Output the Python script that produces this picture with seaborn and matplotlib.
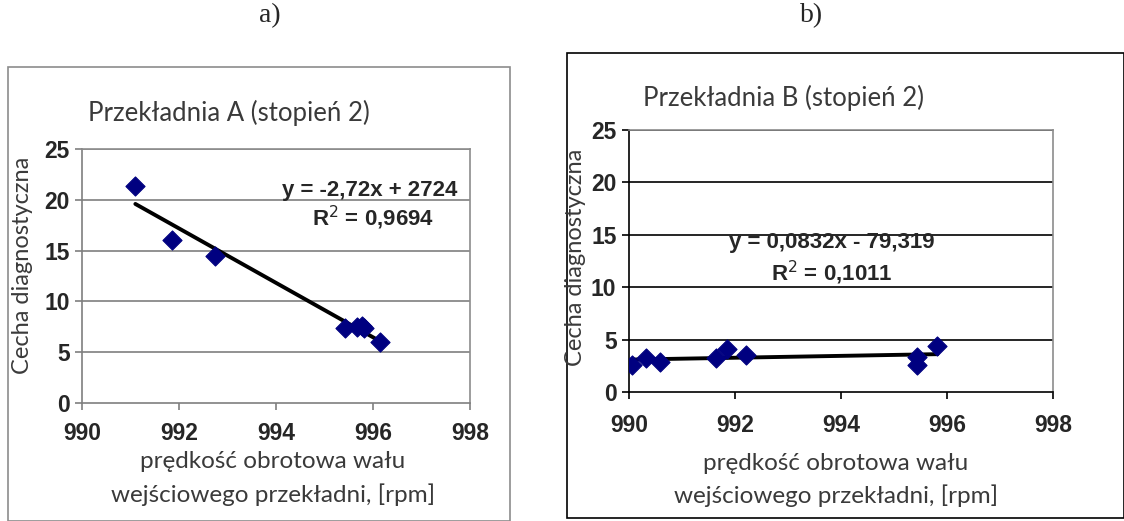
import matplotlib
matplotlib.use("Agg")
import matplotlib.pyplot as plt
import numpy as np
import pandas as pd
import seaborn as sns
from matplotlib.patches import Rectangle

# data
speed_a = [991.1, 991.85, 992.75, 995.42, 995.68, 995.82, 995.78, 996.14]
feat_a = [21.4, 16.0, 14.5, 7.4, 7.5, 7.4, 7.6, 6.0]
speed_b = [990.05, 990.33, 990.58, 991.65, 991.84, 992.2, 995.43, 995.43, 995.82]
feat_b = [2.6, 3.2, 2.9, 3.2, 4.1, 3.55, 3.35, 2.6, 4.4]

titles = ["Przekładnia A (stopień 2)", "Przekładnia B (stopień 2)"]
eq_a = ["y = -2,72x + 2724", "R$^2$ = 0,9694"]
eq_b = ["y = 0,0832x - 79,319", "R$^2$ = 0,1011"]
x_ticks = [990, 992, 994, 996, 998]
y_ticks = [0, 5, 10, 15, 20, 25]

df_a = pd.DataFrame({"x": speed_a, "y": feat_a})
df_b = pd.DataFrame({"x": speed_b, "y": feat_b})

sns.set_theme(style="white")
plt.rcParams['font.family'] = ['Liberation Sans', 'DejaVu Sans']

W, H = 1124, 521
fig = plt.figure(figsize=(W / 100, H / 100), dpi=100)


def px(x, y):
    return x / W, 1 - y / H


def axes_at(l, t, r, b):
    return fig.add_axes([l / W, 1 - b / H, (r - l) / W, (b - t) / H])


# chart-area boxes
fig.patches.append(Rectangle(px(8, 521), 502 / W, 454 / H, transform=fig.transFigure,
                             fill=False, ec="#8c8c8c", lw=1.2))
fig.patches.append(Rectangle(px(567, 518), 557 / W, 465 / H, transform=fig.transFigure,
                             fill=False, ec="black", lw=1.2))

ax_a = axes_at(82, 149, 470, 403)
ax_b = axes_at(629, 130, 1053, 392)

label_font = dict(family=["Lato", "DejaVu Sans"], color="#3a3a3a")

for ax, df, grid_col, pad in [(ax_a, df_a, "#7f7f7f", 9), (ax_b, df_b, "black", 11)]:
    sns.regplot(data=df, x="x", y="y", ax=ax, scatter=False, ci=None,
                line_kws=dict(color="black", lw=2.8))
    sns.scatterplot(data=df, x="x", y="y", ax=ax, marker="D", s=95,
                    color="#000080", edgecolor="#000080", zorder=5)
    ax.set_xlim(990, 998)
    ax.set_ylim(0, 25)
    ax.set_xticks(x_ticks)
    ax.set_yticks(y_ticks)
    ax.set_xlabel("")
    ax.set_ylabel("")
    for yv in y_ticks[1:]:
        ax.axhline(yv, color=grid_col, lw=1.2, zorder=0)
    for s in ["top", "right"]:
        ax.spines[s].set_color("#8c8c8c")
        ax.spines[s].set_linewidth(1.2)
    for s in ["left", "bottom"]:
        ax.spines[s].set_color("#7f7f7f" if ax is ax_a else "black")
        ax.spines[s].set_linewidth(1.2)
    ax.tick_params(axis="both", direction="out", length=5, width=1.2,
                   color="#7f7f7f" if ax is ax_a else "black",
                   bottom=True, left=True, labelsize=16.5)
    ax.tick_params(axis="x", pad=pad)
    ax.tick_params(axis="y", pad=4)
    for lab in ax.get_xticklabels() + ax.get_yticklabels():
        lab.set_fontweight("bold")

# equations
ax_a.text(997.75, 20.9, eq_a[0], ha="right", va="center", fontsize=16, fontweight="bold")
ax_a.text(996.0, 18.2, eq_a[1], ha="center", va="center", fontsize=16, fontweight="bold")
ax_b.text(993.83, 14.3, eq_b[0], ha="center", va="center", fontsize=16, fontweight="bold")
ax_b.text(993.83, 11.35, eq_b[1], ha="center", va="center", fontsize=16, fontweight="bold")

# titles and labels
fig.text(*px(270, 16), "a)", ha="center", va="center", fontsize=20,
         family=["Liberation Serif", "DejaVu Serif"])
fig.text(*px(812, 16), "b)", ha="center", va="center", fontsize=20,
         family=["Liberation Serif", "DejaVu Serif"])
fig.text(*px(88, 113), titles[0], ha="left", va="center", fontsize=18.5, **label_font)
fig.text(*px(643, 98), titles[1], ha="left", va="center", fontsize=18.5, **label_font)
for xc, yc in [(23, 265), (575, 257)]:
    fig.text(*px(xc, yc), "Cecha diagnostyczna", rotation=90, ha="center", va="center",
             fontsize=17, **label_font)
for xc, y1, y2 in [(273, 461, 495), (836, 463, 496)]:
    fig.text(*px(xc, y1), "prędkość obrotowa wału", ha="center", va="center",
             fontsize=17.5, **label_font)
    fig.text(*px(xc, y2), "wejściowego przekładni, [rpm]", ha="center", va="center",
             fontsize=17.5, **label_font)

fig.savefig("out.png", dpi=100)
